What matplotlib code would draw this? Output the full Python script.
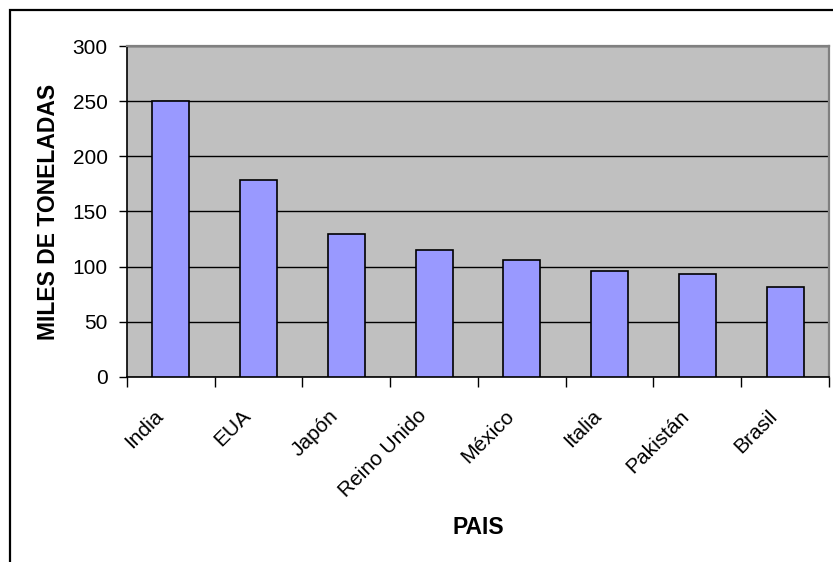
import matplotlib.pyplot as plt
from matplotlib.patches import Rectangle
from matplotlib.transforms import ScaledTranslation

plt.switch_backend('Agg')
plt.rcParams['font.family'] = ['Liberation Sans', 'DejaVu Sans']

paises = ['India', 'EUA', 'Japón', 'Reino Unido', 'México', 'Italia', 'Pakistán', 'Brasil']
toneladas = [250, 178.5, 129.5, 115, 106, 96.5, 93, 82]
yticks = [0, 50, 100, 150, 200, 250, 300]

fig = plt.figure(figsize=(8.33, 5.62), dpi=100)
ax = fig.add_axes([127 / 833, 1 - 377 / 562, 702 / 833, 331 / 562])

# borde exterior del gráfico
fig.patches.append(Rectangle((10 / 833, -0.1), 1.2, 1 - 10 / 562 + 0.1,
                             transform=fig.transFigure, fill=False,
                             edgecolor='black', linewidth=1.6))

ax.set_facecolor('#C0C0C0')
pos = list(range(len(paises)))
ax.bar(pos, toneladas, width=0.42, color='#9999FF', edgecolor='black', linewidth=1.2, zorder=3)

ax.set_xlim(-0.5, len(paises) - 0.5)
ax.set_ylim(0, 300)
ax.set_yticks(yticks)
ax.yaxis.grid(True, color='black', linewidth=1.0, zorder=1)
ax.set_axisbelow(True)

# marcas en los límites de categoría, etiquetas en el centro
ax.set_xticks([p - 0.5 for p in pos] + [len(paises) - 0.5])
ax.set_xticklabels([])
ax.set_xticks(pos, minor=True)
ax.set_xticklabels(paises, minor=True, rotation=45, ha='right', va='center',
                   rotation_mode='anchor')
ax.tick_params(axis='x', which='major', direction='out', length=7, width=1, color='black')
ax.tick_params(axis='x', which='minor', length=0, pad=26, labelsize=15)
ax.tick_params(axis='y', direction='out', length=6, width=1, labelsize=15, pad=8)

desplazamiento = ScaledTranslation(-0.11, 0, fig.dpi_scale_trans)
for etiqueta in ax.get_xticklabels(minor=True):
    etiqueta.set_transform(etiqueta.get_transform() + desplazamiento)

for lado in ['left', 'bottom']:
    ax.spines[lado].set_color('black')
    ax.spines[lado].set_linewidth(1.2)
for lado in ['top', 'right']:
    ax.spines[lado].set_color('#808080')
    ax.spines[lado].set_linewidth(1.6)

ax.set_xlabel('PAIS', fontsize=16.5, fontweight='bold', va='center')
ax.xaxis.set_label_coords(0.5, (377 - 527) / 331)
ax.set_ylabel('MILES DE TONELADAS', fontsize=16.5, fontweight='bold', va='center')
ax.yaxis.set_label_coords((49 - 127) / 702, 0.5)

plt.savefig('out.png', dpi=100)
plt.close()
